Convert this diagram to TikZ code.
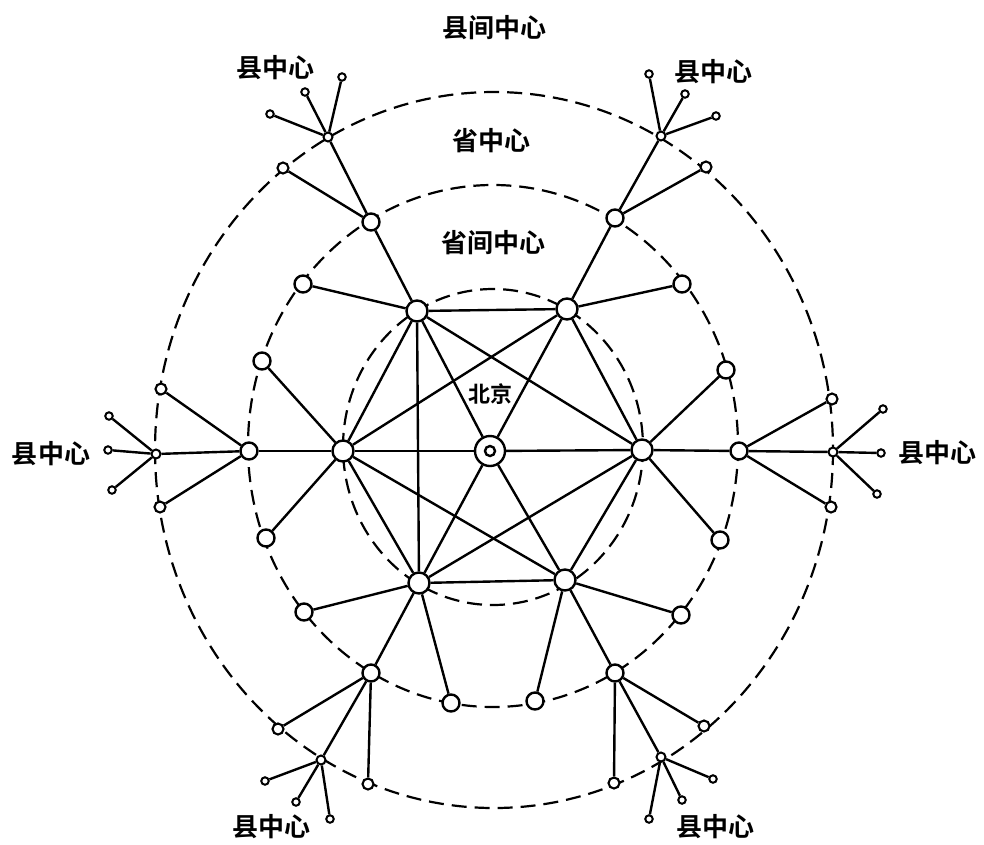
\documentclass[tikz,border=0pt]{standalone}
\usepackage{fontspec}
\newfontfamily\cjk{Noto Sans CJK SC}[BoldFont={Noto Sans CJK SC Bold}]
\usetikzlibrary{calc}
\tikzset{
    site/.style={draw, circle, fill=white, inner sep=0pt, line width=2.4pt},
    link/.style={line width=2.4pt},
    ring/.style={line width=2.2pt, dash pattern=on 15pt off 8pt},
    lbl/.style={font=\cjk\bfseries\fontsize{26}{28}\selectfont, inner sep=0pt}
}

\begin{document}
\begin{tikzpicture}[
    x=1pt, y=-1pt,
    big/.style={site, minimum size=21pt},
    mid/.style={site, minimum size=17pt},
    sml/.style={site, minimum size=11pt, line width=2.1pt},
    hub/.style={site, minimum size=9pt, line width=2pt},
    leaf/.style={site, minimum size=7.5pt, line width=2pt}
]
    \useasboundingbox (0,0) rectangle (984,844);

    % the three rings
    \draw[ring] (493,447) ellipse [x radius=150, y radius=158];
    \draw[ring] (493,446) ellipse [x radius=245, y radius=261];
    \draw[ring] (494,450) ellipse [x radius=339, y radius=358];

    % labels
    \node[lbl] (tIC) at (494,28) {县间中心};
    \node[lbl] (tPR) at (491,141) {省中心};
    \node[lbl] (tIP) at (493,243) {省间中心};
    \node[lbl, font=\cjk\bfseries\fontsize{22}{24}\selectfont] (tBJ) at (490,394) {北京};
    \node[lbl] (tA) at (275,68) {县中心};
    \node[lbl] (tB) at (713,72) {县中心};
    \node[lbl] (tC) at (51,454) {县中心};
    \node[lbl] (tD) at (937,453) {县中心};
    \node[lbl] (tE) at (271,827) {县中心};
    \node[lbl] (tF) at (715,827) {县中心};

    % Beijing
    \node[site, minimum size=30pt,
        path picture={\draw[line width=2.4pt] (path picture bounding box.center) circle (5pt);}]
        (bj) at (490,451) {};

    % inter-province centres
    \node[big] (ip1) at (417,311) {};
    \node[big] (ip2) at (567,309) {};
    \node[big] (ip3) at (642,450) {};
    \node[big] (ip4) at (565,580) {};
    \node[big] (ip5) at (419,583) {};
    \node[big] (ip6) at (343,451) {};

    % province centres
    \node[mid] (pr1) at (371,222) {};
    \node[mid] (pr2) at (615,218) {};
    \node[mid] (pr3) at (303,284) {};
    \node[mid] (pr4) at (682,284) {};
    \node[mid] (pr5) at (262,361) {};
    \node[mid] (pr6) at (726,370) {};
    \node[mid] (pr7) at (249,451) {};
    \node[mid] (pr8) at (739,451) {};
    \node[mid] (pr9) at (266,538) {};
    \node[mid] (pr10) at (720,540) {};
    \node[mid] (pr11) at (304,612) {};
    \node[mid] (pr12) at (681,615) {};
    \node[mid] (pr13) at (371,673) {};
    \node[mid] (pr14) at (615,673) {};
    \node[mid] (pr15) at (451,703) {};
    \node[mid] (pr16) at (535,701) {};

    % inter-county centres
    \node[hub] (icA) at (328,137) {};
    \node[sml] (icA1) at (283,168) {};
    \node[hub] (icB) at (661,136) {};
    \node[sml] (icB1) at (706,167) {};
    \node[hub] (icC) at (156,454) {};
    \node[sml] (icC1) at (161,389) {};
    \node[sml] (icC2) at (160,507) {};
    \node[hub] (icD) at (833,452) {};
    \node[sml] (icD1) at (832,399) {};
    \node[sml] (icD2) at (831,507) {};
    \node[hub] (icE) at (321,760) {};
    \node[sml] (icE1) at (278,729) {};
    \node[sml] (icE2) at (368,784) {};
    \node[hub] (icF) at (661,757) {};
    \node[sml] (icF1) at (704,726) {};
    \node[sml] (icF2) at (614,783) {};

    % county centres
    \foreach \x/\y [count=\i] in {270/114, 305/92, 342/77}
        \node[leaf] (ctA\i) at (\x,\y) {};
    \foreach \x/\y [count=\i] in {649/74, 685/94, 716/116}
        \node[leaf] (ctB\i) at (\x,\y) {};
    \foreach \x/\y [count=\i] in {109/416, 108/450, 112/490}
        \node[leaf] (ctC\i) at (\x,\y) {};
    \foreach \x/\y [count=\i] in {883/409, 881/453, 877/494}
        \node[leaf] (ctD\i) at (\x,\y) {};
    \foreach \x/\y [count=\i] in {265/781, 296/802, 330/819}
        \node[leaf] (ctE\i) at (\x,\y) {};
    \foreach \x/\y [count=\i] in {713/779, 682/800, 649/819}
        \node[leaf] (ctF\i) at (\x,\y) {};

    % Beijing to inter-province centres
    \foreach \i in {1,...,6}
        \draw[link] (bj) -- (ip\i);
    \draw[link] (ip1) -- (ip2) -- (ip3) -- (ip4) -- (ip5) -- (ip6) -- (ip1);
    \draw[link] (ip1) -- (ip3) -- (ip5) -- (ip1);
    \draw[link] (ip2) -- (ip6) -- (ip4);

    % inter-province to province
    \draw[link] (ip1) -- (pr1);
    \draw[link] (ip1) -- (pr3);
    \draw[link] (ip2) -- (pr2);
    \draw[link] (ip2) -- (pr4);
    \draw[link] (ip3) -- (pr6);
    \draw[link] (ip3) -- (pr8);
    \draw[link] (ip3) -- (pr10);
    \draw[link] (ip6) -- (pr5);
    \draw[link] (ip6) -- (pr7);
    \draw[link] (ip6) -- (pr9);
    \draw[link] (ip5) -- (pr11);
    \draw[link] (ip5) -- (pr13);
    \draw[link] (ip5) -- (pr15);
    \draw[link] (ip4) -- (pr12);
    \draw[link] (ip4) -- (pr14);
    \draw[link] (ip4) -- (pr16);

    % province to inter-county
    \draw[link] (pr1) -- (icA);
    \draw[link] (pr1) -- (icA1);
    \draw[link] (pr2) -- (icB);
    \draw[link] (pr2) -- (icB1);
    \draw[link] (pr7) -- (icC);
    \draw[link] (pr7) -- (icC1);
    \draw[link] (pr7) -- (icC2);
    \draw[link] (pr8) -- (icD);
    \draw[link] (pr8) -- (icD1);
    \draw[link] (pr8) -- (icD2);
    \draw[link] (pr13) -- (icE);
    \draw[link] (pr13) -- (icE1);
    \draw[link] (pr13) -- (icE2);
    \draw[link] (pr14) -- (icF);
    \draw[link] (pr14) -- (icF1);
    \draw[link] (pr14) -- (icF2);

    % inter-county to county
    \foreach \h in {A,B,C,D,E,F}
        \foreach \i in {1,2,3}
            \draw[link] (ic\h) -- (ct\h\i);
\end{tikzpicture}
\end{document}
